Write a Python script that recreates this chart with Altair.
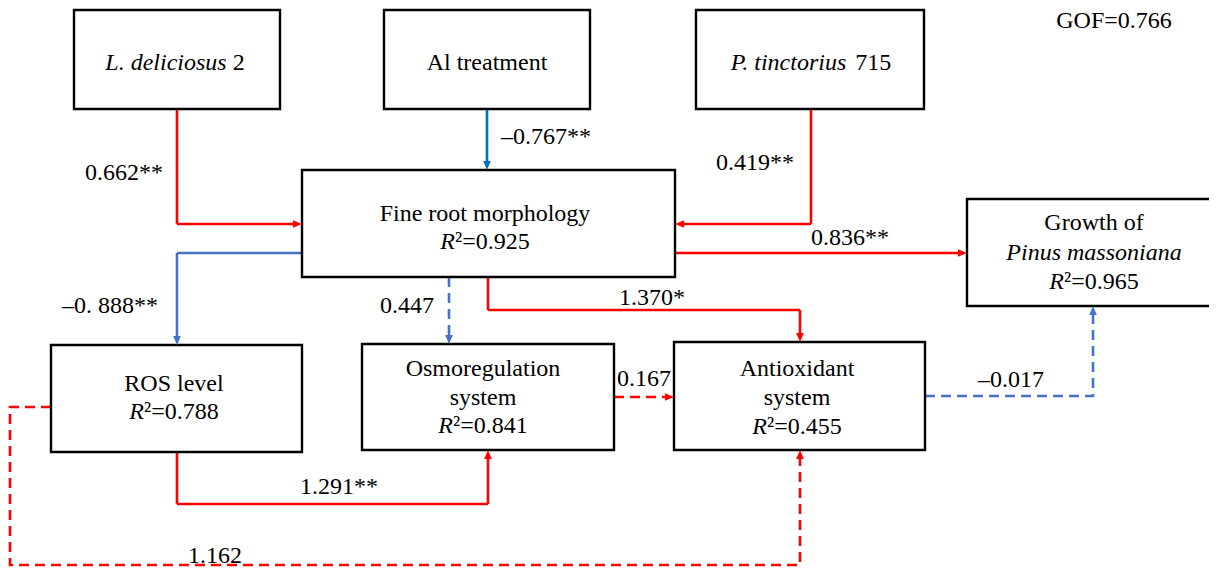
import altair as alt
import pandas as pd

RED = "#FF0000"
BLUE_D = "#0070C0"
BLUE = "#4472C4"
FONT = "Liberation Serif"
FS = 24

# ---- boxes (diagram coordinates, pixels of the 1217x575 figure) ----
box_x0 = [74, 384, 696, 302, 967, 51, 362, 674]
box_x1 = [280, 590, 924, 675, 1224, 302, 614, 925]
box_y0 = [10, 10, 10, 170, 199, 345, 344, 342]
box_y1 = [109, 109, 109, 277, 306, 452, 450, 450]

# ---- box texts: centre x, y, and segments (text, italic) ----
line_cx = [175, 487, 811, 485, 485,
           1094, 1094, 1094,
           174, 174,
           483, 483, 483,
           797, 797, 797,
           1114]
line_y = [63, 63, 63, 214, 242,
          223, 253, 282,
          384, 412,
          369, 398, 426,
          369, 398, 427,
          21]
line_parts = [
    [("L. deliciosus", 1), (" 2", 0)],
    [("Al treatment", 0)],
    [("P. tinctorius", 1), (" 715", 0)],
    [("Fine root morphology", 0)],
    [("R", 1), ("²=0.925", 0)],
    [("Growth of", 0)],
    [("Pinus massoniana", 1)],
    [("R", 1), ("²=0.965", 0)],
    [("ROS level", 0)],
    [("R", 1), ("²=0.788", 0)],
    [("Osmoregulation", 0)],
    [("system", 0)],
    [("R", 1), ("²=0.841", 0)],
    [("Antioxidant", 0)],
    [("system", 0)],
    [("R", 1), ("²=0.455", 0)],
    [("GOF=0.766", 0)],
]

# ---- path coefficients ----
lab_text = ["0.662**", "–0.767**", "0.419**", "0.836**", "–0. 888**", "0.447",
            "1.370*", "1.291**", "0.167", "–0.017", "1.162"]
lab_x = [124, 546, 755, 850, 110, 407, 652, 339, 644, 1011, 215]
lab_y = [173, 137, 163, 238, 306, 306, 298, 487, 379, 380, 556]

# ---- arrows: polyline vertices, colour, dash ----
edge_pts = [
    [(177, 109), (177, 224), (302, 224)],
    [(487, 109), (487, 170)],
    [(811, 109), (811, 224), (675, 224)],
    [(675, 253), (967, 253)],
    [(302, 253), (177, 253), (177, 345)],
    [(449, 277), (449, 344)],
    [(488, 277), (488, 310), (800, 310), (800, 342)],
    [(177, 452), (177, 504), (488, 504), (488, 450)],
    [(614, 397), (674, 397)],
    [(925, 396), (1093, 396), (1093, 306)],
    [(51, 407), (10, 407), (10, 565), (800, 565), (800, 450)],
]
edge_color = [RED, BLUE_D, RED, RED, BLUE, BLUE, RED, RED, RED, BLUE, RED]
edge_dash = ["solid", "solid", "solid", "solid", "solid", "dashed",
             "solid", "solid", "dashed", "dashed", "dashed"]

# approximate Times metrics (em) for splitting mixed-style lines
W_REG = {".": .25, " ": .25, "=": .564, "²": .3}
W_IT = {"L": .556, ".": .25, " ": .25, "d": .5, "e": .444, "l": .278, "i": .278,
        "c": .444, "o": .5, "s": .389, "u": .5, "P": .611, "t": .278, "n": .5,
        "r": .389, "R": .611, "m": .722, "a": .5}


def seg_width(t, it):
    tab = W_IT if it else W_REG
    return sum(tab.get(ch, .5) for ch in t) * FS


rows = []
for cx, y, parts in zip(line_cx, line_y, line_parts):
    if len(parts) == 1:
        rows.append(dict(text=parts[0][0], x=cx, y=y, it=parts[0][1], al="center"))
        continue
    total = sum(seg_width(t, i) for t, i in parts)
    cur = cx - total / 2
    for t, i in parts:
        lead = len(t) - len(t.lstrip(" "))
        rows.append(dict(text=t.strip(), x=cur + lead * 0.25 * FS, y=y, it=i, al="left"))
        cur += seg_width(t, i)
for t, x, y in zip(lab_text, lab_x, lab_y):
    rows.append(dict(text=t, x=x, y=y, it=0, al="center"))
text_df = pd.DataFrame(rows)

box_df = pd.DataFrame(dict(x0=box_x0, x1=box_x1, y0=box_y0, y1=box_y1))

HEAD_PATH = {
    "down": "M0,0L-0.85,-2L0.85,-2Z",
    "up": "M0,0L-0.85,2L0.85,2Z",
    "right": "M0,0L-2,-0.85L-2,0.85Z",
    "left": "M0,0L2,-0.85L2,0.85Z",
}
SHORT = 6
lrows, hrows = [], []
for e, (pts, col, dsh) in enumerate(zip(edge_pts, edge_color, edge_dash)):
    (xa, ya), (xb, yb) = pts[-2], pts[-1]
    dx = (xb > xa) - (xb < xa)
    dy = (yb > ya) - (yb < ya)
    if dx > 0:
        d = "right"
    elif dx < 0:
        d = "left"
    elif dy > 0:
        d = "down"
    else:
        d = "up"
    draw = list(pts[:-1]) + [(xb - dx * SHORT, yb - dy * SHORT)]
    for k, (x, y) in enumerate(draw):
        lrows.append(dict(eid=e, seq=k, x=x, y=y, color=col, dash=dsh))
    hrows.append(dict(x=xb, y=yb, color=col, shape=HEAD_PATH[d]))
line_df = pd.DataFrame(lrows)
head_df = pd.DataFrame(hrows)

xs = alt.Scale(domain=[8, 1209], nice=False, zero=False)
ys = alt.Scale(domain=[8, 567], nice=False, zero=False, reverse=True)

lines = alt.Chart(line_df).mark_line(strokeWidth=2.6, strokeJoin="miter", strokeCap="butt").encode(
    x=alt.X("x:Q", scale=xs, axis=None),
    y=alt.Y("y:Q", scale=ys, axis=None),
    detail="eid:N",
    order="seq:Q",
    color=alt.Color("color:N", scale=None),
    strokeDash=alt.StrokeDash("dash:N", scale=alt.Scale(domain=["solid", "dashed"],
                                                        range=[[1, 0], [10, 6]]), legend=None),
)

boxes = alt.Chart(box_df).mark_rect(fillOpacity=0, stroke="black", strokeWidth=2.4).encode(
    x=alt.X("x0:Q", scale=xs, axis=None), x2="x1:Q",
    y=alt.Y("y0:Q", scale=ys, axis=None), y2="y1:Q",
)

heads = alt.Chart(head_df).mark_point(filled=True, size=81, opacity=1, strokeWidth=0).encode(
    x=alt.X("x:Q", scale=xs, axis=None),
    y=alt.Y("y:Q", scale=ys, axis=None),
    color=alt.Color("color:N", scale=None),
    shape=alt.Shape("shape:N", scale=None),
)


def text_layer(it, align):
    sub = text_df[(text_df["it"] == it) & (text_df["al"] == align)]
    return alt.Chart(sub).mark_text(font=FONT, fontSize=FS, color="black", align=align,
                                    baseline="middle",
                                    fontStyle="italic" if it else "normal").encode(
        x=alt.X("x:Q", scale=xs, axis=None),
        y=alt.Y("y:Q", scale=ys, axis=None),
        text="text:N",
    )


texts = [text_layer(i, a) for i in (0, 1) for a in ("center", "left")
         if len(text_df[(text_df["it"] == i) & (text_df["al"] == a)])]

chart = alt.layer(lines, boxes, heads, *texts).properties(
    width=1201, height=559, padding=0,
    autosize=alt.AutoSizeParams(type="none"),
).configure_view(stroke=None)

chart.save("out.html", embed_options={"renderer": "svg", "actions": False})
